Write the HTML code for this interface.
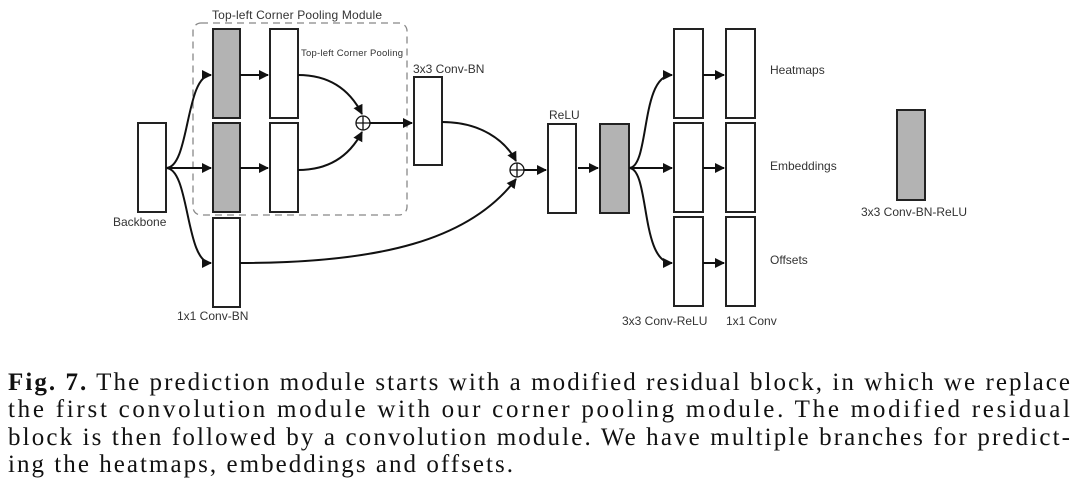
<!DOCTYPE html>
<html><head><meta charset="utf-8"><style>
html,body{margin:0;padding:0;background:#fff;}
svg{display:block}
.l{font-family:"Liberation Sans",sans-serif;font-size:12px;fill:#333}
.c{font-family:"Liberation Serif",serif;font-size:25px;fill:#111}
</style></head><body>
<svg width="1080" height="497" viewBox="0 0 1080 497" xmlns="http://www.w3.org/2000/svg">
<defs><marker id="a" markerWidth="10" markerHeight="10" refX="9" refY="5" orient="auto" markerUnits="userSpaceOnUse"><path d="M0,0 L10,5 L0,10 z" fill="#111"/></marker></defs>
<g stroke="#222" stroke-width="2">
<rect x="138" y="123" width="28" height="89" fill="#fff"/>
<rect x="213" y="29" width="27" height="89" fill="#b3b3b3"/>
<rect x="213" y="123" width="27" height="89" fill="#b3b3b3"/>
<rect x="270" y="29" width="28" height="89" fill="#fff"/>
<rect x="270" y="123" width="28" height="89" fill="#fff"/>
<rect x="213" y="218" width="27" height="89" fill="#fff"/>
<rect x="414" y="77" width="28" height="88" fill="#fff"/>
<rect x="548" y="124" width="28" height="89" fill="#fff"/>
<rect x="600" y="124" width="29" height="89" fill="#b3b3b3"/>
<rect x="674" y="29" width="29" height="89" fill="#fff"/>
<rect x="674" y="123" width="29" height="89" fill="#fff"/>
<rect x="674" y="217" width="29" height="89" fill="#fff"/>
<rect x="726" y="29" width="29" height="89" fill="#fff"/>
<rect x="726" y="123" width="29" height="89" fill="#fff"/>
<rect x="726" y="217" width="29" height="89" fill="#fff"/>
<rect x="897" y="110" width="28" height="90" fill="#b3b3b3"/>
</g>
<rect x="193" y="23" width="214" height="192" rx="8" fill="none" stroke="#888" stroke-width="1.3" stroke-dasharray="7,5"/>
<g stroke="#111" stroke-width="2" fill="none">
<path d="M166,168 C190,168 185,75 211,75" marker-end="url(#a)"/>
<path d="M166,168 L211,168" marker-end="url(#a)"/>
<path d="M166,168 C190,168 185,263 211,263" marker-end="url(#a)"/>
<path d="M240,75 L268,75" marker-end="url(#a)"/>
<path d="M240,168 L268,168" marker-end="url(#a)"/>
<path d="M298,75 C330,75 350,90 362,114" marker-end="url(#a)"/>
<path d="M298,170 C330,170 350,155 362,132" marker-end="url(#a)"/>
<path d="M370,123 L412,123" marker-end="url(#a)"/>
<path d="M442,122 C480,122 505,140 516,161" marker-end="url(#a)"/>
<path d="M240,263 C380,263 470,240 516,179" marker-end="url(#a)"/>
<path d="M524,170 L546,170" marker-end="url(#a)"/>
<path d="M578,168 L598,168" marker-end="url(#a)"/>
<path d="M629,168 C650,168 640,75 672,75" marker-end="url(#a)"/>
<path d="M629,168 L672,168" marker-end="url(#a)"/>
<path d="M629,168 C650,168 640,263 672,263" marker-end="url(#a)"/>
<path d="M703,75 L724,75" marker-end="url(#a)"/>
<path d="M703,168 L724,168" marker-end="url(#a)"/>
<path d="M703,263 L724,263" marker-end="url(#a)"/>
</g>
<g stroke="#111" stroke-width="1.3" fill="#fff">
<circle cx="363" cy="123" r="7"/><path d="M356,123h14M363,116v14"/>
<circle cx="517" cy="170" r="7"/><path d="M510,170h14M517,163v14"/>
</g>
<text class="l" x="212" y="19" textLength="170">Top-left Corner Pooling Module</text>
<text class="l" x="301" y="56" style="font-size:9.5px" textLength="102">Top-left Corner Pooling</text>
<text class="l" x="413" y="73">3x3 Conv-BN</text>
<text class="l" x="549" y="119">ReLU</text>
<text class="l" x="113" y="226">Backbone</text>
<text class="l" x="177" y="320">1x1 Conv-BN</text>
<text class="l" x="770" y="74">Heatmaps</text>
<text class="l" x="770" y="170">Embeddings</text>
<text class="l" x="770" y="264">Offsets</text>
<text class="l" x="861" y="216">3x3 Conv-BN-ReLU</text>
<text class="l" x="622" y="325">3x3 Conv-ReLU</text>
<text class="l" x="726" y="325">1x1 Conv</text>
<text class="c" x="8" y="390" textLength="1062" lengthAdjust="spacing"><tspan font-weight="bold">Fig. 7.</tspan> The prediction module starts with a modified residual block, in which we replace</text>
<text class="c" x="8" y="417" textLength="1062" lengthAdjust="spacing">the first convolution module with our corner pooling module. The modified residual</text>
<text class="c" x="8" y="445" textLength="1062" lengthAdjust="spacing">block is then followed by a convolution module. We have multiple branches for predict-</text>
<text class="c" x="8" y="472" textLength="505" lengthAdjust="spacing">ing the heatmaps, embeddings and offsets.</text>
</svg>
</body></html>
